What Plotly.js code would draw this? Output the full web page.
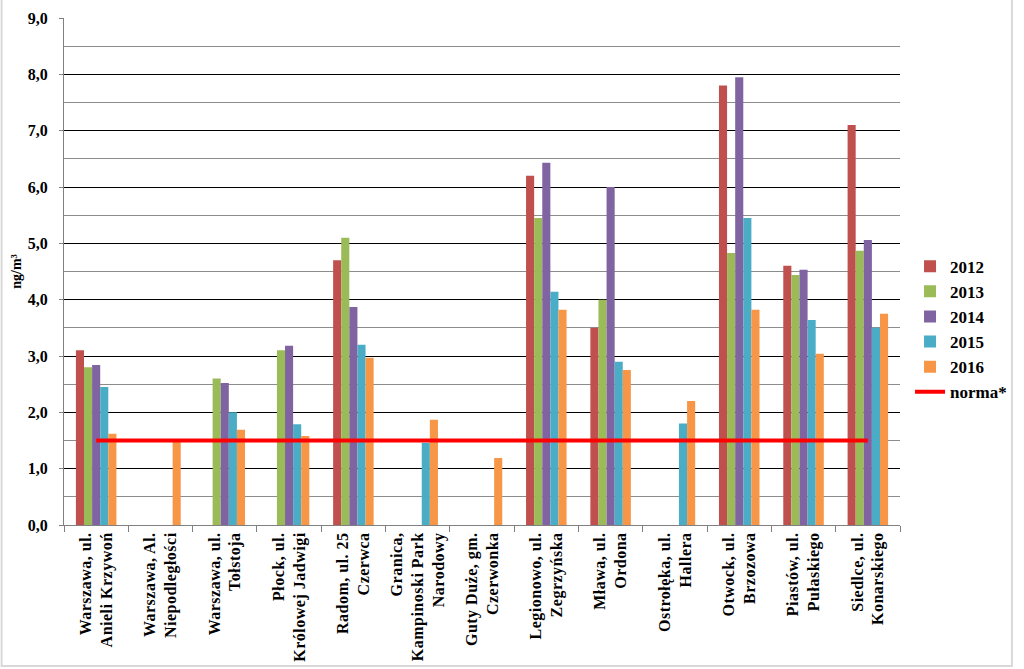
<!DOCTYPE html>
<html>
<head>
<meta charset="utf-8">
<script src="https://cdn.plot.ly/plotly-3.0.1.min.js"></script>
<style>
html,body{margin:0;padding:0;background:#fff;}
#chart{width:1024px;height:669px;}
#chart .xtick text{letter-spacing:0.5px;}
</style>
</head>
<body>
<div id="chart"></div>
<script>
const categories = [
  "Warszawa, ul.<br>Anieli Krzywoń",
  "Warszawa, Al.<br>Niepodległości",
  "Warszawa, ul.<br>Tołstoja",
  "Płock, ul.<br>Królowej Jadwigi",
  "Radom, ul. 25<br>Czerwca",
  "Granica,<br>Kampinoski Park<br>Narodowy",
  "Guty Duże, gm.<br>Czerwonka",
  "Legionowo, ul.<br>Zegrzyńska",
  "Mława, ul.<br>Ordona",
  "Ostrołęka, ul.<br>Hallera",
  "Otwock, ul.<br>Brzozowa",
  "Piastów, ul.<br>Pułaskiego",
  "Siedlce, ul.<br>Konarskiego"
];
const v2012 = [3.1, null, null, null, 4.7, null, null, 6.2, 3.5, null, 7.8, 4.6, 7.1];
const v2013 = [2.8, null, 2.6, 3.1, 5.1, null, null, 5.45, 4.0, null, 4.83, 4.44, 4.87];
const v2014 = [2.84, null, 2.52, 3.18, 3.87, null, null, 6.43, 6.0, null, 7.95, 4.53, 5.06];
const v2015 = [2.45, null, 2.0, 1.79, 3.2, 1.46, null, 4.14, 2.9, 1.8, 5.45, 3.64, 3.5];
const v2016 = [1.62, 1.48, 1.69, 1.58, 2.97, 1.87, 1.19, 3.82, 2.75, 2.2, 3.82, 3.04, 3.75];
const norma = [1.5, 1.5, 1.5, 1.5, 1.5, 1.5, 1.5, 1.5, 1.5, 1.5, 1.5, 1.5, 1.5];
const seriesNames = ["2012", "2013", "2014", "2015", "2016"];
const normaName = "norma*";
const yTitle = "ng/m³";

const colors = ["#C0504D", "#9BBB59", "#8064A2", "#4BACC6", "#F79646"];
const values = [v2012, v2013, v2014, v2015, v2016];
const fam = "Liberation Serif, Times New Roman, serif";
const font = {family: fam, size: 15, color: "#000", weight: "bold"};

const traces = values.map((v, i) => ({
  type: "bar", name: seriesNames[i], x: categories, y: v,
  marker: {color: colors[i]}
}));
traces.push({
  type: "scatter", mode: "lines", name: normaName, x: categories, y: norma,
  line: {color: "#FF0000", width: 4}
});

const L = 64, R = 116, T = 18, B = 144, W = 1024, H = 669;
const pw = W - L - R, ph = H - T - B;

const layout = {
  width: W, height: H,
  margin: {l: L, r: R, t: T, b: B},
  paper_bgcolor: "#fff", plot_bgcolor: "#fff",
  separators: ", ",
  font: font,
  barmode: "group", bargap: 0.37, bargroupgap: 0,
  showlegend: true,
  legend: {x: 1.012, y: 0.545, xanchor: "left", yanchor: "top",
    font: {family: fam, size: 17, color: "#000", weight: "bold"},
    bgcolor: "rgba(0,0,0,0)", itemwidth: 30},
  xaxis: {
    type: "category", tickangle: -90,
    tickfont: {family: fam, size: 16, color: "#000", weight: "bold"},
    showline: true, linecolor: "#808080", linewidth: 1,
    ticks: "outside", ticklen: 6, tickcolor: "#808080", tickson: "boundaries",
    showgrid: false, automargin: false
  },
  yaxis: {
    range: [0, 9], dtick: 1, tickformat: ".1f",
    tickfont: {family: fam, size: 16, color: "#000", weight: "bold"},
    showline: true, linecolor: "#808080", linewidth: 1,
    ticks: "outside", ticklen: 4, tickcolor: "#808080", ticklabelstandoff: 8,
    showgrid: true, gridcolor: "#000", gridwidth: 1,
    minor: {dtick: 0.5, showgrid: true, gridcolor: "#8c8c8c", gridwidth: 1},
    zeroline: false, automargin: false,
    title: {text: yTitle, font: {family: fam, size: 14, color: "#000", weight: "bold"}, standoff: 2}
  },
  shapes: [{
    type: "rect", xref: "paper", yref: "paper", layer: "above",
    x0: (1 - L) / pw, x1: (W - 3 - L) / pw,
    y0: -(B - 3) / ph, y1: (H - T + 5) / ph,
    line: {color: "#d9d9d9", width: 2}, fillcolor: "rgba(0,0,0,0)"
  }]
};
Plotly.newPlot("chart", traces, layout, {displayModeBar: false, staticPlot: true});
</script>
</body>
</html>
